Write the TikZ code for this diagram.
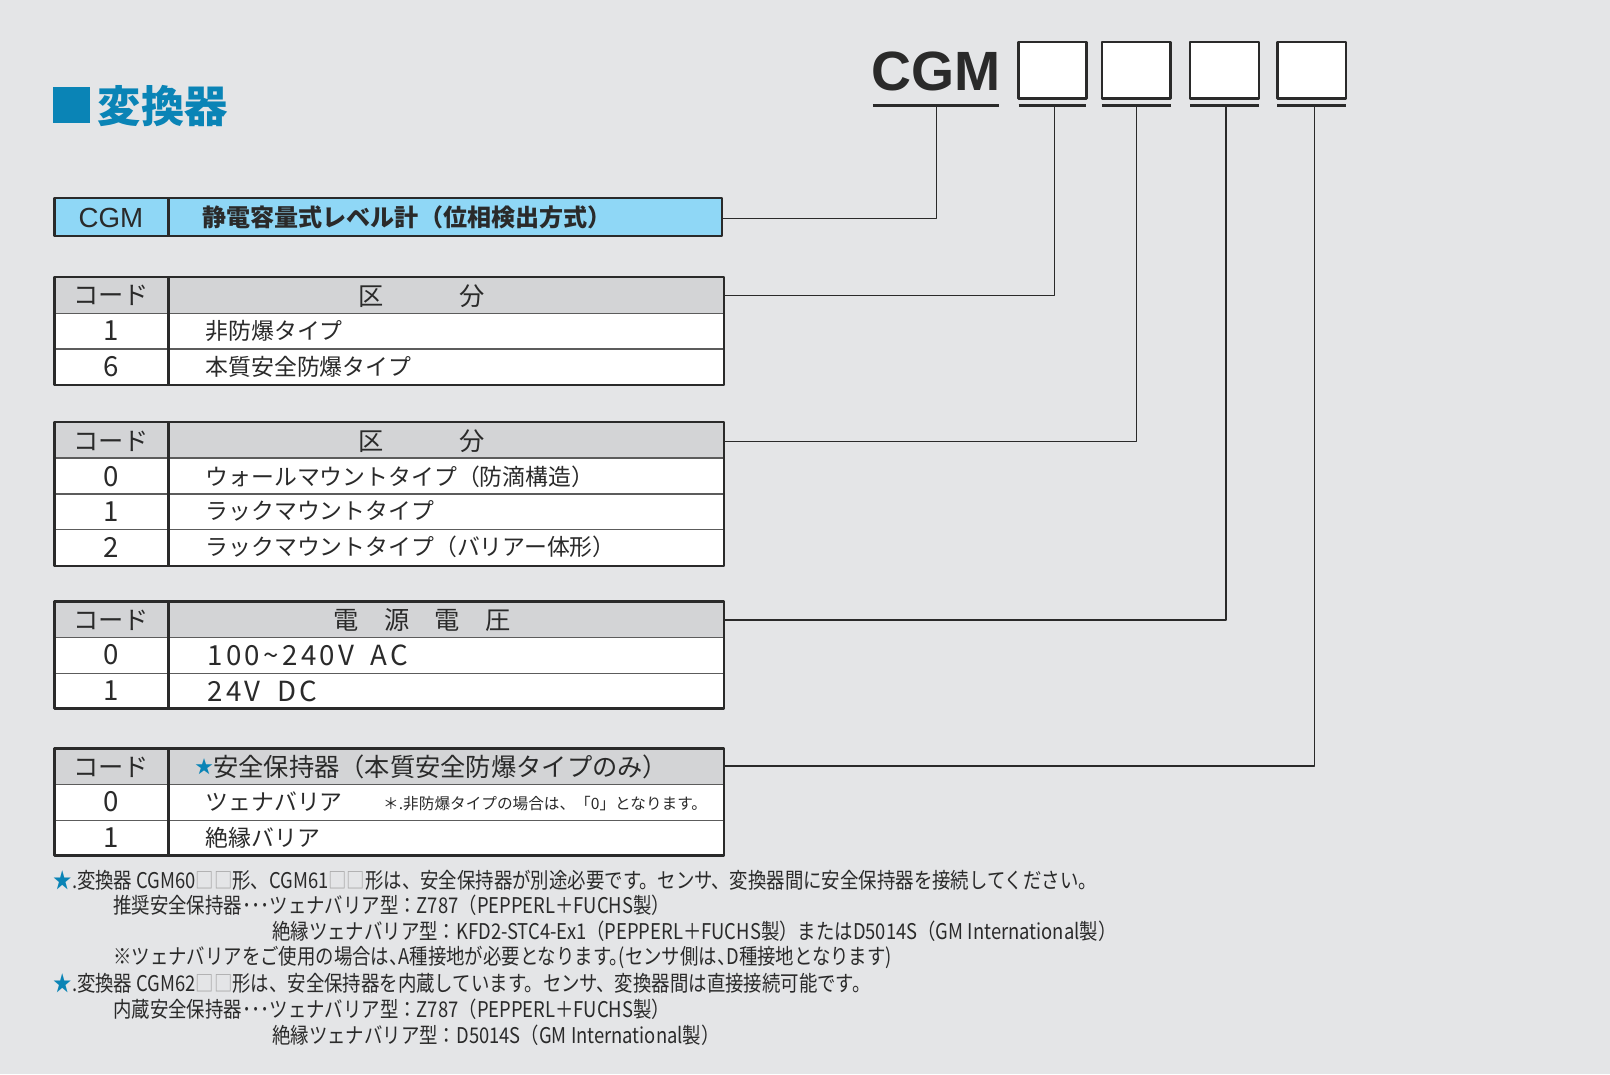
\documentclass[tikz,border=0pt]{standalone}
\usepackage{fontspec}
\newfontfamily\jp{Noto Sans CJK JP}
\newfontfamily\jpn[FakeStretch=0.85]{Noto Sans CJK JP}
\newfontfamily\jpv[LetterSpace=12]{Noto Sans CJK JP}
\newfontfamily\lat{Liberation Sans}
\definecolor{bg}{HTML}{E4E5E7}
\definecolor{ttlblue}{HTML}{0A84B6}
\definecolor{hdblue}{HTML}{8FD7F6}
\definecolor{hdgray}{HTML}{D3D4D6}
\definecolor{ink}{HTML}{2A2A2A}
\definecolor{sepgray}{HTML}{5C5C5C}
\definecolor{sqgray}{HTML}{A6A6A6}
\newcommand\sq{{\color{sqgray}□□}}
\newcommand\bstar{{\color{ttlblue}★}}
\begin{document}
\begin{tikzpicture}[x=0.03cm,y=-0.03cm,line join=round,
    frame/.style={draw=ink,line width=2pt},
    sep/.style={draw=sepgray,line width=1.1pt},
    conn/.style={draw=ink,line width=1.3pt},
    uline/.style={draw=ink,line width=2.6pt},
    txt/.style={inner sep=0pt,text=ink,font=\jp\fontsize{19}{19}\selectfont},
    num/.style={txt,font=\jp\fontsize{23}{23}\selectfont},
    hd/.style={txt,font=\jp\fontsize{21}{21}\selectfont},
    volt/.style={txt,anchor=west,font=\jpv\fontsize{23}{23}\selectfont},
    note/.style={inner sep=0pt,anchor=west,text=ink,font=\jpn\fontsize{18}{18}\selectfont}]
  \useasboundingbox[fill=bg] (0,0) rectangle (1568,1046);

  % title
  \fill[ttlblue] (52,85) rectangle (88,120);
  \node[inner sep=0pt,anchor=west,text=ttlblue,font=\jp\bfseries\fontsize{36}{36}\selectfont] (title) at (95,103) {変換器};

  % model code
  \node[inner sep=0pt,anchor=base west,text=ink,font=\lat\bfseries\fontsize{46}{46}\selectfont] (cgm) at (849,88) {CGM};
  \draw[uline] (850,103) -- (973,103);
  \coordinate (u0) at (912,103);
  \foreach \i/\xa/\xb/\xc in {1/992/1058/1027,2/1073/1140/1107,3/1159/1226/1194,4/1244/1311/1280}{
    \filldraw[fill=white,draw=ink,line width=2pt] (\xa,41) rectangle (\xb,96);
    \draw[uline] (\xa,103) -- (\xb,103);
    \coordinate (u\i) at (\xc,103);
  }

  % CGM
  \filldraw[fill=hdblue,frame] (53,193) rectangle (703,230);
  \draw[frame] (164,193) -- (164,230);
  \node[txt,font=\lat\fontsize{23}{23}\selectfont] (c0) at (108,212) {CGM};
  \node[txt,anchor=west,font=\jp\bfseries\fontsize{20}{20}\selectfont] (c1) at (197,212) {静電容量式レベル計（位相検出方式）};
  \coordinate (e0) at (703,213);

  % type
  \fill[white] (53,305) rectangle (705,375);
  \fill[hdgray] (53,270) rectangle (705,305);
  \foreach \y in {305,340} \draw[sep] (53,\y) -- (705,\y);
  \draw[frame] (53,270) rectangle (705,375) (164,270) -- (164,375);
  \node[hd] (a0) at (108,288) {コード};
  \node[hd] (a1) at (411,288) {区　　　分};
  \node[num] (a2) at (108,322) {1};
  \node[txt,anchor=west] (a3) at (200,322) {非防爆タイプ};
  \node[num] (a4) at (108,357) {6};
  \node[txt,anchor=west] (a5) at (200,357) {本質安全防爆タイプ};
  \coordinate (e1) at (705,288);

  % mounting
  \fill[white] (53,446) rectangle (705,551);
  \fill[hdgray] (53,411) rectangle (705,446);
  \foreach \y in {446,481,516} \draw[sep] (53,\y) -- (705,\y);
  \draw[frame] (53,411) rectangle (705,551) (164,411) -- (164,551);
  \node[hd] (m0) at (108,430) {コード};
  \node[hd] (m1) at (411,430) {区　　　分};
  \node[num] (m2) at (108,464) {0};
  \node[txt,anchor=west] (m3) at (200,464) {ウォールマウントタイプ（防滴構造）};
  \node[num] (m4) at (108,498) {1};
  \node[txt,anchor=west] (m5) at (200,498) {ラックマウントタイプ};
  \node[num] (m6) at (108,533) {2};
  \node[txt,anchor=west] (m7) at (200,533) {ラックマウントタイプ（バリアー体形）};
  \coordinate (e2) at (705,430);

  % power
  \fill[white] (53,621) rectangle (705,690);
  \fill[hdgray] (53,586) rectangle (705,621);
  \foreach \y in {621,656} \draw[sep] (53,\y) -- (705,\y);
  \draw[frame] (53,586) rectangle (705,690) (164,586) -- (164,690);
  \node[hd] (p0) at (108,604) {コード};
  \node[hd] (p1) at (411,604) {電　源　電　圧};
  \node[num] (p2) at (108,638) {0};
  \node[volt] (p3) at (202,638) {100\textasciitilde240V\hspace{.6em}AC};
  \node[num] (p4) at (108,673) {1};
  \node[volt] (p5) at (202,673) {24V\hspace{.6em}DC};
  \coordinate (e3) at (705,604);

  % barrier
  \fill[white] (53,764) rectangle (705,833);
  \fill[hdgray] (53,729) rectangle (705,764);
  \foreach \y in {764,799} \draw[sep] (53,\y) -- (705,\y);
  \draw[frame] (53,729) rectangle (705,833) (164,729) -- (164,833);
  \node[hd] (s0) at (108,747) {コード};
  \node[hd,anchor=west] (s1) at (190,747) {{\color{ttlblue}\raisebox{.2ex}{\fontsize{15}{15}\selectfont ★}}安全保持器（本質安全防爆タイプのみ）};
  \node[num] (s2) at (108,781) {0};
  \node[txt,anchor=west] (s3) at (200,781) {ツェナバリア};
  \node[txt,anchor=west,font=\jp\fontsize{13}{13}\selectfont] (s4) at (373,783) {＊.非防爆タイプの場合は、「0」となります。};
  \node[num] (s5) at (108,816) {1};
  \node[txt,anchor=west] (s6) at (200,816) {絶縁バリア};
  \coordinate (e4) at (705,746);

  % connectors
  \draw[conn] (e0) -| (u0);
  \draw[conn] (e1) -| (u1);
  \draw[conn] (e2) -| (u2);
  \draw[conn] (e3) -| (u3);
  \draw[conn] (e4) -| (u4);

  % notes
  \node[note] (n1) at (52,857) {\bstar.変換器 CGM60\sq 形、CGM61\sq 形は、安全保持器が別途必要です。センサ、変換器間に安全保持器を接続してください。};
  \node[note] (n2) at (110,882) {推奨安全保持器･･･ツェナバリア型：Z787（PEPPERL＋FUCHS製）};
  \node[note] (n3) at (265,907) {絶縁ツェナバリア型：KFD2-STC4-Ex1（PEPPERL＋FUCHS製）またはD5014S（GM International製）};
  \node[note,font=\jpn\fontsize{18}{18}\selectfont\addfontfeature{RawFeature=+halt}] (n4) at (110,932) {※ツェナバリアをご使用の場合は、A種接地が必要となります。(センサ側は、D種接地となります)};
  \node[note] (n5) at (52,958) {\bstar.変換器 CGM62\sq 形は、安全保持器を内蔵しています。センサ、変換器間は直接接続可能です。};
  \node[note] (n6) at (110,983) {内蔵安全保持器･･･ツェナバリア型：Z787（PEPPERL＋FUCHS製）};
  \node[note] (n7) at (265,1008) {絶縁ツェナバリア型：D5014S（GM International製）};
\end{tikzpicture}
\end{document}
